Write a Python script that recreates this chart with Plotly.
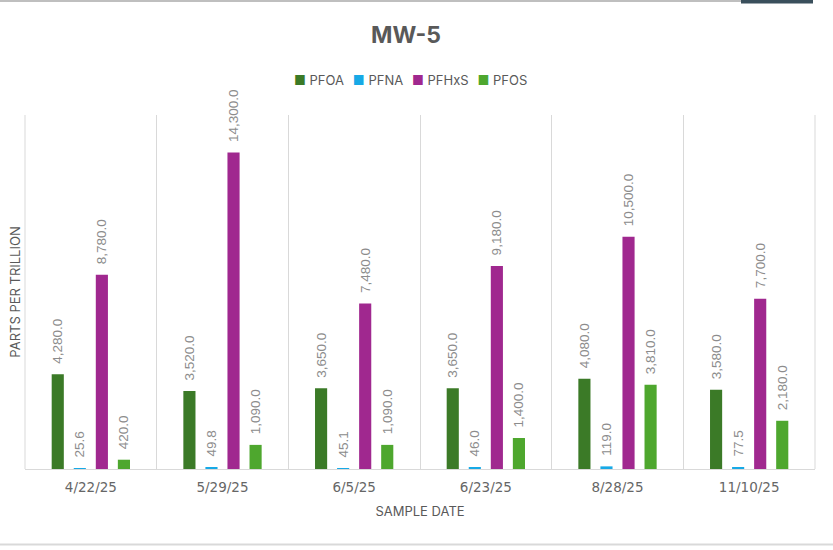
import plotly.graph_objects as go

dates = ["4/22/25", "5/29/25", "6/5/25", "6/23/25", "8/28/25", "11/10/25"]
pfoa = [4280.0, 3520.0, 3650.0, 3650.0, 4080.0, 3580.0]
pfna = [25.6, 49.8, 45.1, 46.0, 119.0, 77.5]
pfhxs = [8780.0, 14300.0, 7480.0, 9180.0, 10500.0, 7700.0]
pfos = [420.0, 1090.0, 1090.0, 1400.0, 3810.0, 2180.0]

series = [
    ("PFOA", pfoa, "#3b7a27"),
    ("PFNA", pfna, "#17a9e6"),
    ("PFHxS", pfhxs, "#a0288f"),
    ("PFOS", pfos, "#4ea72e"),
]

LABEL_FONT = "Liberation Sans, Arial, sans-serif"
UI_FONT = "Inter, Open Sans, sans-serif"

fig = go.Figure()
for name, vals, color in series:
    fig.add_trace(go.Bar(
        name=name, x=dates, y=vals,
        marker=dict(color=color, line=dict(width=0)),
        text=["\u00a0\u00a0" + f"{v:,.1f}" for v in vals],
        textposition="outside", textangle=-90,
        textfont=dict(family=LABEL_FONT, size=13.5, color="#8c8c8c"),
        cliponaxis=False, constraintext="none",
        showlegend=False,
    ))

L, R, T, B = 25, 18, 115, 81
W, H = 833, 550
pw, ph = W - L - R, H - T - B

def px(xp):
    return (xp - L) / pw

def py(yp):
    return (H - B - yp) / ph

shapes = [
    dict(type="line", xref="paper", yref="paper", x0=px(0), x1=px(742), y0=py(1), y1=py(1),
         line=dict(color="#bfbfbf", width=2)),
    dict(type="rect", xref="paper", yref="paper", x0=px(741), x1=px(813), y0=py(0), y1=py(3.5),
         fillcolor="#3a4f5c", line=dict(width=0)),
    dict(type="line", xref="paper", yref="paper", x0=px(0), x1=px(833), y0=py(544.5), y1=py(544.5),
         line=dict(color="#d9d9d9", width=2)),
    dict(type="line", xref="paper", yref="paper", x0=0, x1=0, y0=0, y1=1,
         line=dict(color="#d9d9d9", width=1)),
    dict(type="line", xref="paper", yref="paper", x0=1, x1=1, y0=0, y1=1,
         line=dict(color="#d9d9d9", width=1)),
]

legend_html = "\u2002\u2009".join(
    f'<span style="color:{c}">\u25a0</span> {n}' for n, _, c in series
)
annotations = [
    dict(text=legend_html, xref="paper", yref="paper", x=px(410), y=py(80),
         xanchor="center", yanchor="middle", showarrow=False,
         font=dict(family=UI_FONT, size=13, color="#595959")),
]

fig.update_layout(
    width=W, height=H,
    margin=dict(l=L, r=R, t=T, b=B, pad=0, autoexpand=False),
    paper_bgcolor="white", plot_bgcolor="white",
    barmode="group", bargap=0.33, bargroupgap=0.45,
    showlegend=False,
    title=dict(text="<b>MW-5</b>", x=406 / W, xanchor="center", y=1 - 35 / H, yanchor="middle",
               font=dict(family=UI_FONT, size=23, color="#595959")),
    xaxis=dict(
        tickson="boundaries", showgrid=True, gridcolor="#d9d9d9", gridwidth=1,
        showline=True, linecolor="#d9d9d9", linewidth=1, ticks="",
        automargin=False, ticklabelstandoff=6,
        tickfont=dict(family="DejaVu Sans, sans-serif", size=13.5, color="#666666"),
        title=dict(text="SAMPLE DATE", standoff=12,
                   font=dict(family=UI_FONT, size=13, color="#595959")),
        range=[-0.5, 5.5],
    ),
    yaxis=dict(
        range=[0, 16000], showgrid=False, zeroline=False, showticklabels=False, ticks="",
        automargin=False,
        title=dict(text="PARTS PER TRILLION", standoff=0,
                   font=dict(family=UI_FONT, size=13, color="#595959")),
    ),
    shapes=shapes,
    annotations=annotations,
)

fig.write_html(
    "out.html",
    config={"displayModeBar": False},
    post_script="document.body.style.margin='0';document.body.style.overflow='hidden';",
)
